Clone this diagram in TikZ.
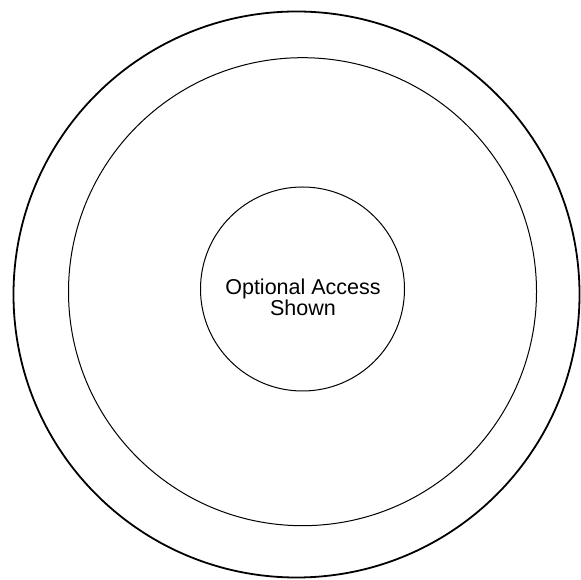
\documentclass[tikz,border=0pt]{standalone}
\usepackage{fontspec}
\setmainfont{Liberation Sans}
\begin{document}
\begin{tikzpicture}[x=1pt,y=1pt,
  ring/.style={circle, draw=black, inner sep=0pt, outer sep=0pt},
  label/.style={align=center, font=\fontsize{21.5}{21}\selectfont}]
\useasboundingbox (0,0) rectangle (580,580);
\node[ring, line width=1.8pt, minimum size=566pt] (outer) at (296.5,285.5) {};
\node[ring, line width=1pt, minimum size=468pt] (middle) at (302.5,288.3) {};
\node[ring, line width=1pt, minimum size=204pt] (inner) at (302.5,291) {};
\node[label] (txt) at (303,283) {Optional Access\\Shown};
\end{tikzpicture}
\end{document}
